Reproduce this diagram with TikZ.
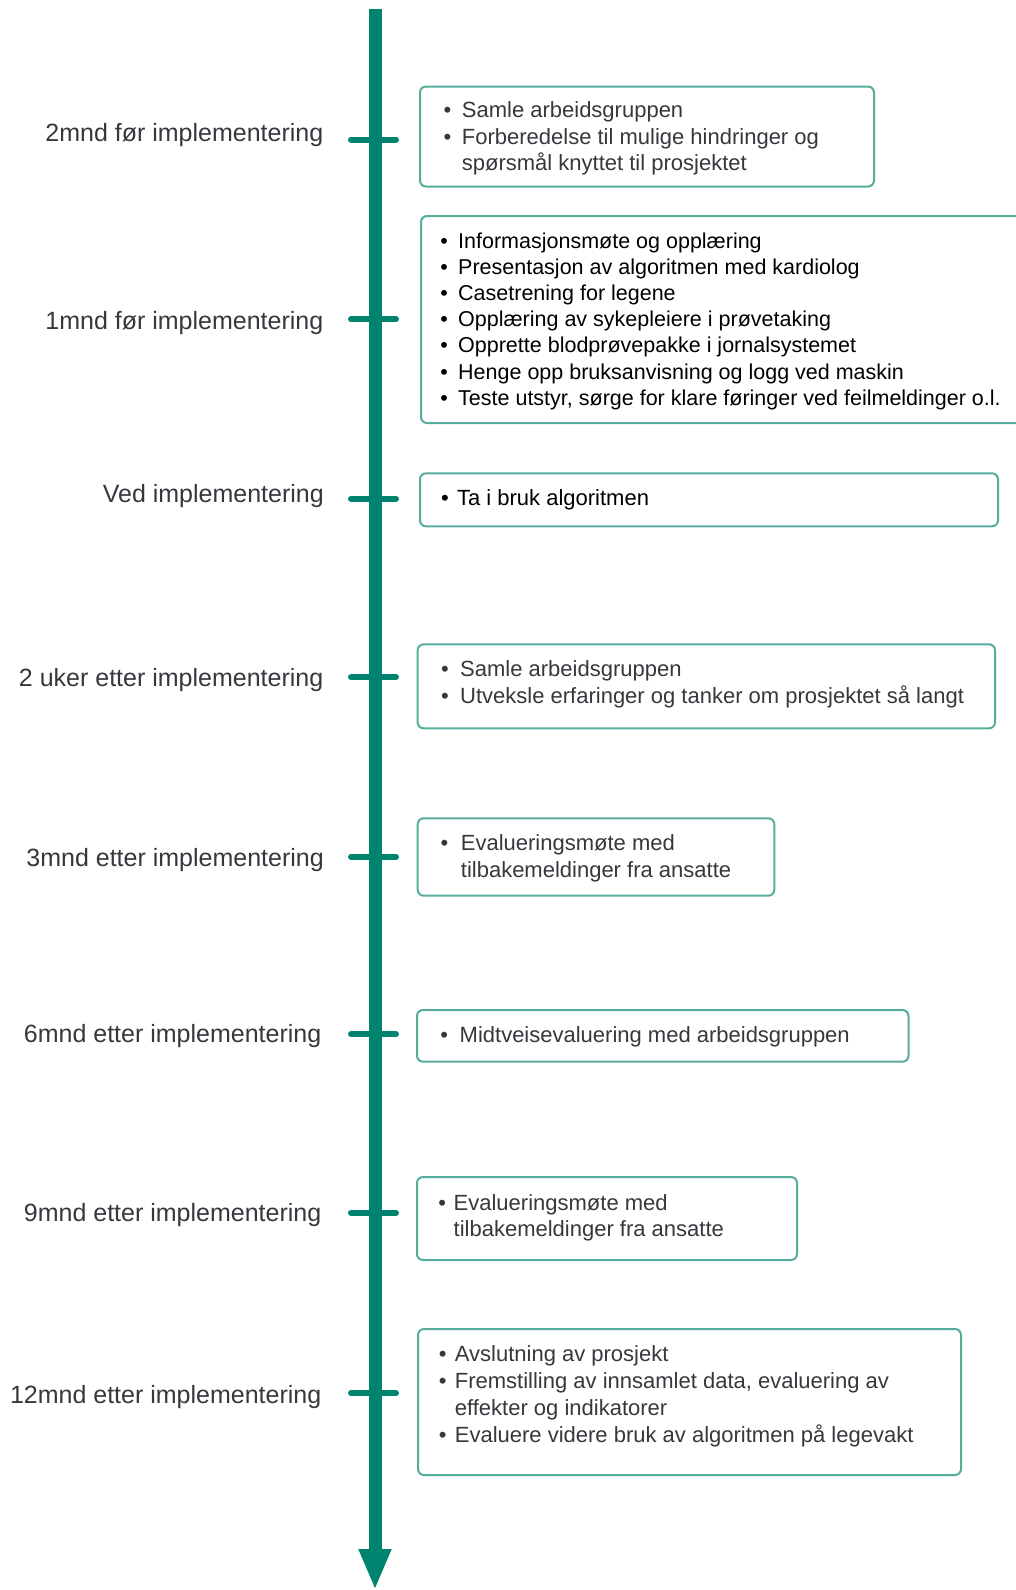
\documentclass[tikz,border=0pt]{standalone}
\usepackage{fontspec}
\setmainfont{Liberation Sans}
\usetikzlibrary{arrows.meta}
\definecolor{tlgreen}{HTML}{00846F}
\definecolor{boxc}{HTML}{55AD9B}
\definecolor{txtgray}{HTML}{35383D}
\newcommand{\bu}[1]{\llap{\textbullet\hspace{#1pt}}}
\newcommand{\fs}{\rule{0pt}{20pt}}
\begin{document}
\begin{tikzpicture}[x=1pt,y=-1pt,
  timeline/.style={draw=tlgreen,line width=13pt,-{Triangle[width=30pt,length=41pt]}},
  tickline/.style={draw=tlgreen,line width=6pt,line cap=round},
  lbl/.style={anchor=base east,inner sep=0pt,text=txtgray,font=\fontsize{25}{30}\selectfont},
  boxnode/.style={draw=boxc,line width=2pt,rounded corners=6pt,anchor=north west,inner sep=0pt,fill=white},
  boxtext/.style={anchor=north west,inner sep=0pt,align=left,text=txtgray,font=\fontsize{22}{26.5}\selectfont},
]
\useasboundingbox (0,0) rectangle (1016,1590);
\clip (0,0) rectangle (1016,1590);
\fill[white] (0,0) rectangle (1016,1590);

% timeline
\coordinate (tltop) at (375,9);
\coordinate (tlend) at (375,1590);
\draw[timeline] (tltop) -- (tlend);

% ticks
\foreach \i/\y in {1/139.5,2/319.4,3/498.7,4/677,5/856.8,6/1034.3,7/1212.7,8/1393.3}{
  \coordinate (t\i a) at (351,\y);
  \coordinate (t\i b) at (396,\y);
  \draw[tickline] (t\i a) -- (t\i b);
}

% labels
\node[lbl] (l1) at (323.5,141.7) {2mnd før implementering};
\node[lbl] (l2) at (323.5,329.5) {1mnd før implementering};
\node[lbl] (l3) at (324,502.5) {Ved implementering};
\node[lbl] (l4) at (323.5,686.7) {2 uker etter implementering};
\node[lbl] (l5) at (324,866.5) {3mnd etter implementering};
\node[lbl] (l6) at (321.5,1042.5) {6mnd etter implementering};
\node[lbl] (l7) at (321.5,1221.5) {9mnd etter implementering};
\node[lbl] (l8) at (321.5,1403.5) {12mnd etter implementering};

% boxes
\node[boxnode,minimum width=454pt,minimum height=100pt] (b1) at (419,85.5) {};
\node[boxnode,minimum width=640pt,minimum height=207pt] (b2) at (420,215) {};
\node[boxnode,minimum width=578pt,minimum height=53pt] (b3) at (419,472.3) {};
\node[boxnode,minimum width=577.4pt,minimum height=84pt] (b4) at (416.6,643.3) {};
\node[boxnode,minimum width=356.6pt,minimum height=77.4pt] (b5) at (416.7,817.3) {};
\node[boxnode,minimum width=491.5pt,minimum height=51.7pt] (b6) at (416,1009) {};
\node[boxnode,minimum width=380pt,minimum height=83pt] (b7) at (416,1176) {};
\node[boxnode,minimum width=543pt,minimum height=146pt] (b8) at (417,1328) {};

% box texts (north = first baseline - 20pt)
\node[boxtext] (x1) at (461.7,97.5) {\fs\bu{10.5}Samle arbeidsgruppen\\
  \bu{10.5}Forberedelse til mulige hindringer og\\
  spørsmål knyttet til prosjektet};
\node[boxtext,text=black,font=\fontsize{21.5}{26.1}\selectfont] (x2) at (458,228.3) {\fs\bu{10.2}Informasjonsmøte og opplæring\\
  \bu{10.2}Presentasjon av algoritmen med kardiolog\\
  \bu{10.2}Casetrening for legene\\
  \bu{10.2}Opplæring av sykepleiere i prøvetaking\\
  \bu{10.2}Opprette blodprøvepakke i jornalsystemet\\
  \bu{10.2}Henge opp bruksanvisning og logg ved maskin\\
  \bu{10.2}Teste utstyr, sørge for klare føringer ved feilmeldinger o.l.};
\node[boxtext,text=black] (x3) at (456.9,485) {\fs\bu{8.4}Ta i bruk algoritmen};
\node[boxtext] (x4) at (460,656.7) {\fs\bu{11.5}Samle arbeidsgruppen\\
  \bu{11.5}Utveksle erfaringer og tanker om prosjektet så langt};
\node[boxtext] (x5) at (460.7,830.7) {\fs\bu{12.5}Evalueringsmøte med\\
  tilbakemeldinger fra ansatte};
\node[boxtext] (x6) at (459.5,1022.3) {\fs\bu{11.6}Midtveisevaluering med arbeidsgruppen};
\node[boxtext] (x7) at (453.5,1190) {\fs\bu{7.6}Evalueringsmøte med\\
  tilbakemeldinger fra ansatte};
\node[boxtext,font=\fontsize{22}{27}\selectfont] (x8) at (454.7,1341.7) {\fs\bu{8.4}Avslutning av prosjekt\\
  \bu{8.4}Fremstilling av innsamlet data, evaluering av\\
  effekter og indikatorer\\
  \bu{8.4}Evaluere videre bruk av algoritmen på legevakt};
\end{tikzpicture}
\end{document}
